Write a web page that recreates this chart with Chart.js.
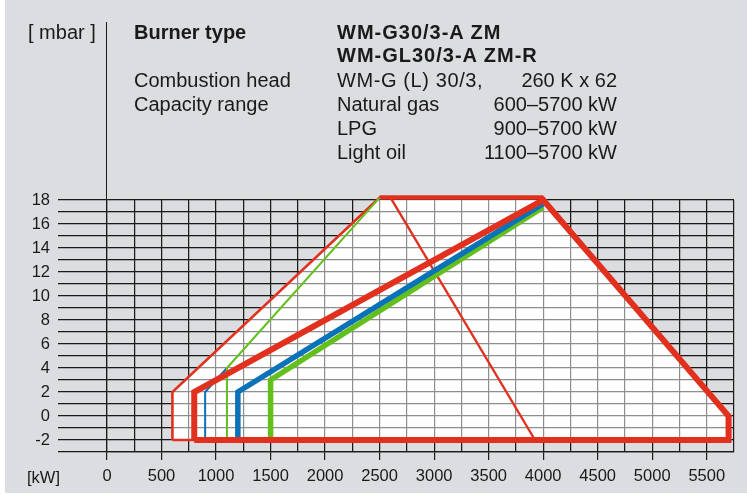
<!DOCTYPE html>
<html>
<head>
<meta charset="utf-8">
<script src="https://cdn.jsdelivr.net/npm/chart.js@4.4.7/dist/chart.umd.min.js"></script>
<style>
  html, body { margin: 0; padding: 0; background: #fff; }
  #wrap { position: relative; width: 747px; height: 495px; font-family: 'Liberation Sans', Arial, sans-serif; color: #1a1a1a; }
  #wrap canvas { position: absolute; left: 0; top: 0; }
  .t { position: absolute; font-size: 20px; line-height: 24px; white-space: nowrap; }
  .b { font-weight: bold; }
  .w { letter-spacing: 1px; }
  .r { right: 130px; text-align: right; }
  .s { position: absolute; font-size: 16.5px; line-height: 20px; white-space: nowrap; }
  #divider { position: absolute; left: 106px; top: 22px; width: 1.2px; height: 178px; background: #1a1a1a; }
</style>
</head>
<body>
<div id="wrap">
  <canvas id="chart" width="747" height="495"></canvas>
  <div id="divider"></div>
  <div class="t" style="left:28px;top:20px">[ mbar ]</div>
  <div class="t b" style="left:134px;top:20px">Burner type</div>
  <div class="t b w" style="left:337px;top:20px">WM-G30/3-A ZM</div>
  <div class="t b w" style="left:337px;top:43px">WM-GL30/3-A ZM-R</div>
  <div class="t" style="left:134px;top:68px">Combustion head</div>
  <div class="t" style="left:337px;top:68px;letter-spacing:0.6px">WM-G (L) 30/3,</div>
  <div class="t r" style="top:68px">260 K x 62</div>
  <div class="t" style="left:134px;top:92px">Capacity range</div>
  <div class="t" style="left:337px;top:92px">Natural gas</div>
  <div class="t r" style="top:92px">600–5700 kW</div>
  <div class="t" style="left:337px;top:116px">LPG</div>
  <div class="t r" style="top:116px">900–5700 kW</div>
  <div class="t" style="left:337px;top:140px">Light oil</div>
  <div class="t r" style="top:140px">1100–5700 kW</div>
  <div class="s" style="left:27px;top:467px">[kW]</div>
</div>
<script>
// capacity [kW] / pressure [mbar] corner points of each curve
const envelopeKw   = [600, 600, 2500, 4000, 5700, 5700, 600];
const envelopeMbar = [-2, 2, 18.2, 18.2, 0, -2, -2];

const topEdgeKw   = [2500, 4000];
const topEdgeMbar = [18.2, 18.2];

const limitKw   = [2600, 3925];
const limitMbar = [18.2, -2];

const thinGreenKw   = [1100, 1100, 2500];
const thinGreenMbar = [-2, 4, 18.2];

const thinBlueKw   = [900, 900, 1100];
const thinBlueMbar = [-2, 2, 4];

const thickGreenKw   = [1500, 1500, 4000];
const thickGreenMbar = [-2, 3, 17.4];

const thickBlueKw   = [1200, 1200, 4000];
const thickBlueMbar = [-2, 2, 17.7];

const thickRedKw   = [800, 800, 4000, 5700, 5700, 800];
const thickRedMbar = [-2, 2, 18, 0, -2, -2];

const xTickStep = 250;
const yTickStep = 1;

const RED = '#e1301e';
const BLUE = '#0a72b8';
const GREEN = '#62bf1c';
const BG = '#dcdde0';
const GRID = '#1a1a1a';
const GRID_IN = '#8e8e8e';
const TXT = '#1a1a1a';
const FONT = "'Liberation Sans', Arial, sans-serif";

function pts(xs, ys) {
  return xs.map((x, i) => ({ x: x, y: ys[i] }));
}

function line(xs, ys, color, width, extra) {
  return Object.assign({
    data: pts(xs, ys),
    showLine: true,
    borderColor: color,
    borderWidth: width,
    pointRadius: 0,
    pointHoverRadius: 0,
    fill: false,
    clip: false,
    borderJoinStyle: 'miter'
  }, extra || {});
}

function align(p, w) {
  return Math.round(p - w / 2) + w / 2;
}

// background panel + lighter grid inside the white envelope
const panel = {
  id: 'panel',
  beforeDraw(chart) {
    const c = chart.ctx;
    c.save();
    c.fillStyle = BG;
    c.fillRect(5, 0, chart.width - 5, chart.height - 2);
    c.restore();
  },
  beforeDatasetsDraw(chart) {
    const { ctx, chartArea: a, scales: { x, y } } = chart;
    ctx.save();
    ctx.beginPath();
    ctx.rect(a.left, a.top, a.right - a.left, a.bottom - a.top);
    ctx.clip();
    ctx.globalCompositeOperation = 'darken';
    ctx.strokeStyle = GRID_IN;
    ctx.lineWidth = 1.2;
    ctx.beginPath();
    x.ticks.forEach(t => {
      const p = align(x.getPixelForValue(t.value), 1.2);
      ctx.moveTo(p, a.top); ctx.lineTo(p, a.bottom);
    });
    y.ticks.forEach(t => {
      const p = align(y.getPixelForValue(t.value), 1.2);
      ctx.moveTo(a.left, p); ctx.lineTo(a.right, p);
    });
    ctx.stroke();
    ctx.restore();
  }
};

new Chart(document.getElementById('chart'), {
  type: 'scatter',
  data: {
    datasets: [
      line(thickRedKw, thickRedMbar, RED, 6),
      line(thickBlueKw, thickBlueMbar, BLUE, 5.5),
      line(thickGreenKw, thickGreenMbar, GREEN, 5.5),
      line(limitKw, limitMbar, RED, 2.4),
      line(thinGreenKw, thinGreenMbar, GREEN, 2),
      line(thinBlueKw, thinBlueMbar, BLUE, 2),
      line(topEdgeKw, topEdgeMbar, RED, 4.5),
      line(envelopeKw, envelopeMbar, RED, 2.6, {
        fill: 'shape',
        backgroundColor: '#ffffff'
      })
    ]
  },
  options: {
    responsive: false,
    animation: false,
    events: [],
    layout: { padding: { top: 200, left: 5, right: 13, bottom: 0 } },
    plugins: {
      legend: { display: false },
      tooltip: { enabled: false },
      filler: { drawTime: 'beforeDatasetsDraw' }
    },
    scales: {
      x: {
        type: 'linear',
        min: 0,
        max: 5750,
        afterFit(s) { s.height = 43; },
        border: { color: GRID, width: 1.2 },
        grid: {
          color: GRID,
          lineWidth: 1.2,
          tickLength: 8,
          tickColor: c => (c.tick && c.tick.value % 500 === 0) ? GRID : 'rgba(0,0,0,0)'
        },
        ticks: {
          stepSize: xTickStep,
          autoSkip: false,
          maxRotation: 0,
          minRotation: 0,
          padding: 7,
          color: TXT,
          font: { family: FONT, size: 16.5 },
          callback: v => (v % 500 === 0) ? String(v) : ''
        }
      },
      y: {
        type: 'linear',
        min: -3,
        max: 18,
        afterFit(s) { s.width = 102; },
        border: { color: GRID, width: 1.2 },
        grid: { color: GRID, lineWidth: 1.2, tickLength: 49 },
        ticks: {
          stepSize: yTickStep,
          autoSkip: false,
          padding: 8,
          color: TXT,
          font: { family: FONT, size: 16.5 },
          callback: v => (v % 2 === 0 && v >= -2) ? String(v) : ''
        }
      }
    }
  },
  plugins: [panel]
});
</script>
</body>
</html>
